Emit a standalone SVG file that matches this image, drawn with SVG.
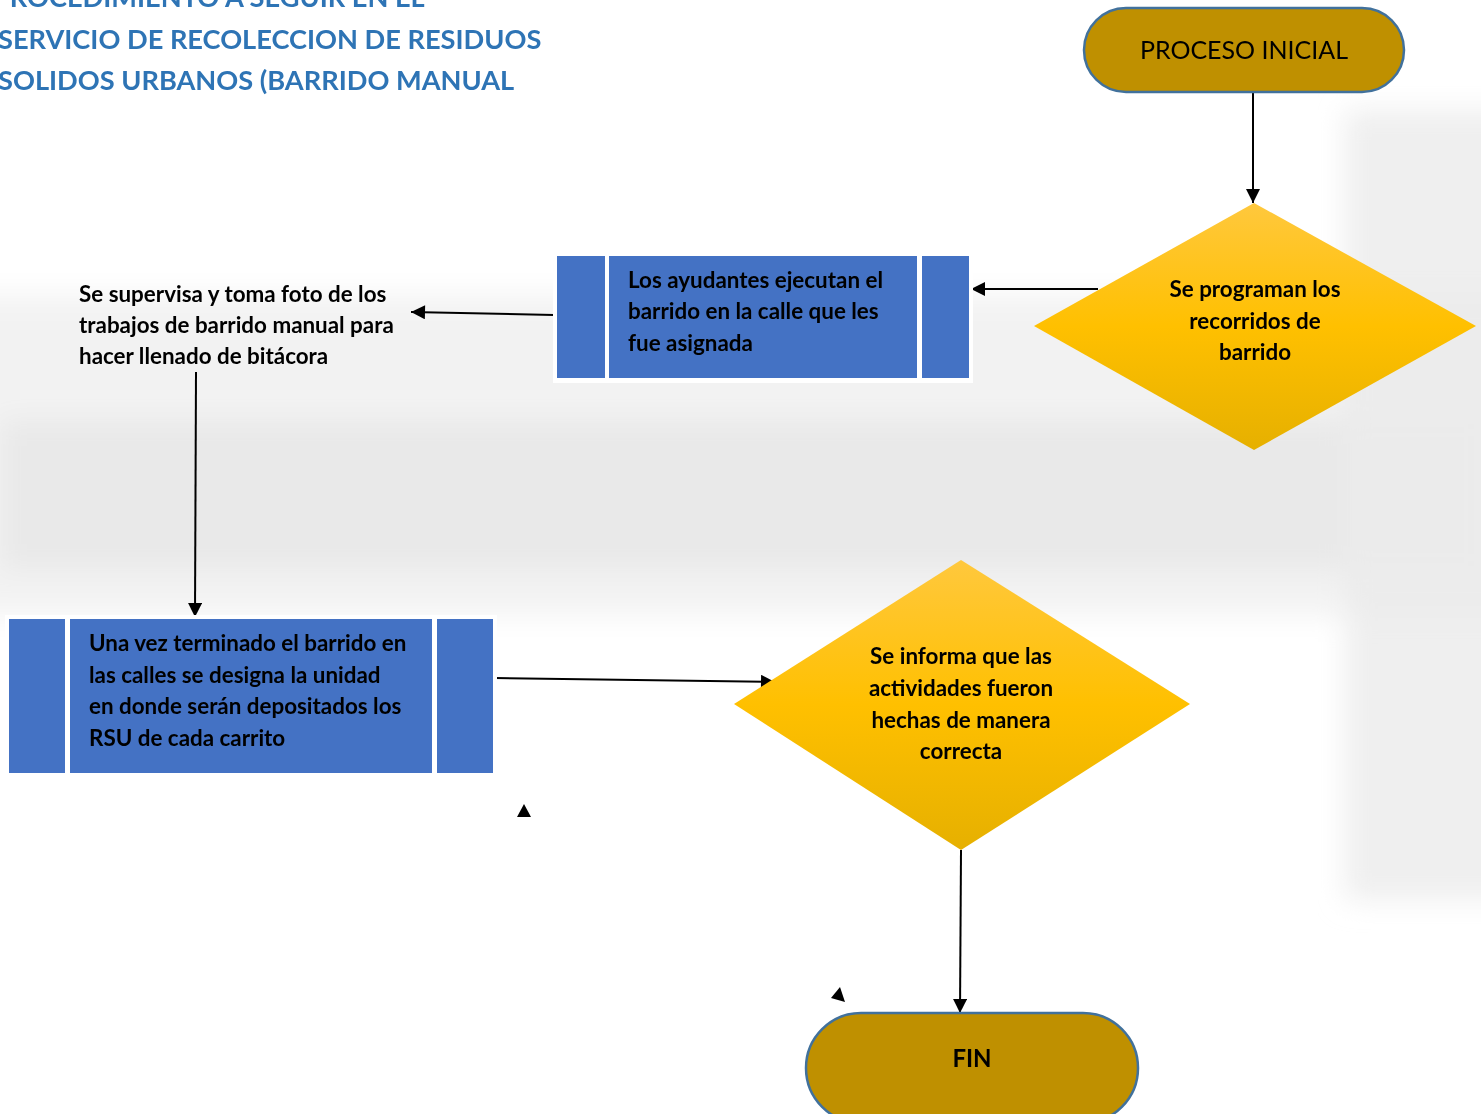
<svg xmlns="http://www.w3.org/2000/svg" width="1481" height="1114" viewBox="0 0 1481 1114">
<style>
.title{font-family:Lato,"Liberation Sans",sans-serif;font-weight:bold;font-size:27.2px;fill:#2E74B5}
.t{font-family:Lato,"Liberation Sans",sans-serif;font-weight:bold;font-size:22.4px;fill:#000}
.tc{font-family:Lato,"Liberation Sans",sans-serif;font-weight:bold;font-size:22.4px;fill:#000;text-anchor:middle}
.term{fill:#BF9000;stroke:#41719C;stroke-width:2.5}
.blue{fill:#4472C4}
.conn{stroke:#000;stroke-width:2;fill:none;marker-end:url(#ah)}
</style>
<defs>
<marker id="ah" viewBox="0 0 10 10" refX="10" refY="5" markerWidth="16" markerHeight="14" orient="auto" markerUnits="userSpaceOnUse">
<path d="M0,0 L10,5 L0,10 z" fill="#000"/>
</marker>
<linearGradient id="dg" x1="0" y1="0" x2="0" y2="1">
<stop offset="0" stop-color="#FFC83D"/>
<stop offset="0.5" stop-color="#FFC000"/>
<stop offset="1" stop-color="#E6B000"/>
</linearGradient>
<filter id="blur" x="-20%" y="-20%" width="140%" height="140%"><feGaussianBlur stdDeviation="14"/></filter>
</defs>
<rect width="1481" height="1114" fill="#fff"/>
<g id="background" filter="url(#blur)">
<rect x="-40" y="295" width="1560" height="320" fill="#efefef" opacity="0.8"/>
<rect x="0" y="420" width="1481" height="150" fill="#e2e2e2" opacity="0.5"/>
<rect x="1345" y="110" width="180" height="790" fill="#ebebeb" opacity="0.8"/>
</g>
<g id="title">
<text class="title" x="-7" y="7">PROCEDIMIENTO A SEGUIR EN EL</text>
<text class="title" x="-2" y="49">SERVICIO DE RECOLECCION DE RESIDUOS</text>
<text class="title" x="-2" y="90">SOLIDOS URBANOS (BARRIDO MANUAL</text>
</g>
<g id="connectors">
<line class="conn" x1="1253" y1="92" x2="1253" y2="203"/>
<line class="conn" x1="1098" y1="289" x2="971" y2="289"/>
<line class="conn" x1="554" y1="315" x2="411" y2="312"/>
<line class="conn" x1="196" y1="372" x2="195" y2="617"/>
<line class="conn" x1="495" y1="678" x2="775" y2="682"/>
<line class="conn" x1="961" y1="850" x2="960" y2="1013"/>
<path d="M517,817 L524,804 L531,817 z" fill="#000"/>
<path d="M831,998 L840,987 L845,1002 z" fill="#000"/>
</g>
<g id="start">
<rect class="term" x="1084" y="8" width="320" height="84" rx="42" ry="42"/>
<text x="1244" y="59" text-anchor="middle" font-family="Lato,'Liberation Sans',sans-serif" font-size="25" fill="#000">PROCESO INICIAL</text>
</g>
<g id="decision1">
<polygon points="1254,203 1476,326 1254,450 1034,326" fill="url(#dg)"/>
<text class="tc" x="1255" y="297">Se programan los</text>
<text class="tc" x="1255" y="329">recorridos de</text>
<text class="tc" x="1255" y="360">barrido</text>
</g>
<g id="process1">
<rect x="553" y="253" width="420" height="130" fill="#fff"/>
<rect class="blue" x="557" y="256" width="48" height="122"/>
<rect class="blue" x="609" y="256" width="308" height="122"/>
<rect class="blue" x="922" y="256" width="47" height="122"/>
<text class="t" x="628" y="288">Los ayudantes ejecutan el</text>
<text class="t" x="628" y="319">barrido en la calle que les</text>
<text class="t" x="628" y="351">fue asignada</text>
</g>
<g id="supervise">
<text class="t" x="79" y="302">Se supervisa y toma foto de los</text>
<text class="t" x="79" y="333">trabajos de barrido manual para</text>
<text class="t" x="79" y="364">hacer llenado de bitácora</text>
</g>
<g id="process2">
<rect x="5" y="615" width="492" height="163" fill="#fff"/>
<rect class="blue" x="9" y="619" width="56" height="154"/>
<rect class="blue" x="70" y="619" width="362" height="154"/>
<rect class="blue" x="437" y="619" width="56" height="154"/>
<text class="t" x="89" y="651">Una vez terminado el barrido en</text>
<text class="t" x="89" y="683">las calles se designa la unidad</text>
<text class="t" x="89" y="714">en donde serán depositados los</text>
<text class="t" x="89" y="746">RSU de cada carrito</text>
</g>
<g id="decision2">
<polygon points="961,560 1190,704 961,850 734,704" fill="url(#dg)"/>
<text class="tc" x="961" y="664">Se informa que las</text>
<text class="tc" x="961" y="696">actividades fueron</text>
<text class="tc" x="961" y="728">hechas de manera</text>
<text class="tc" x="961" y="759">correcta</text>
</g>
<g id="end">
<rect class="term" x="806" y="1013" width="332" height="110" rx="55" ry="55"/>
<text x="972" y="1067" text-anchor="middle" font-family="Lato,'Liberation Sans',sans-serif" font-weight="bold" font-size="24" fill="#000">FIN</text>
</g>
</svg>
